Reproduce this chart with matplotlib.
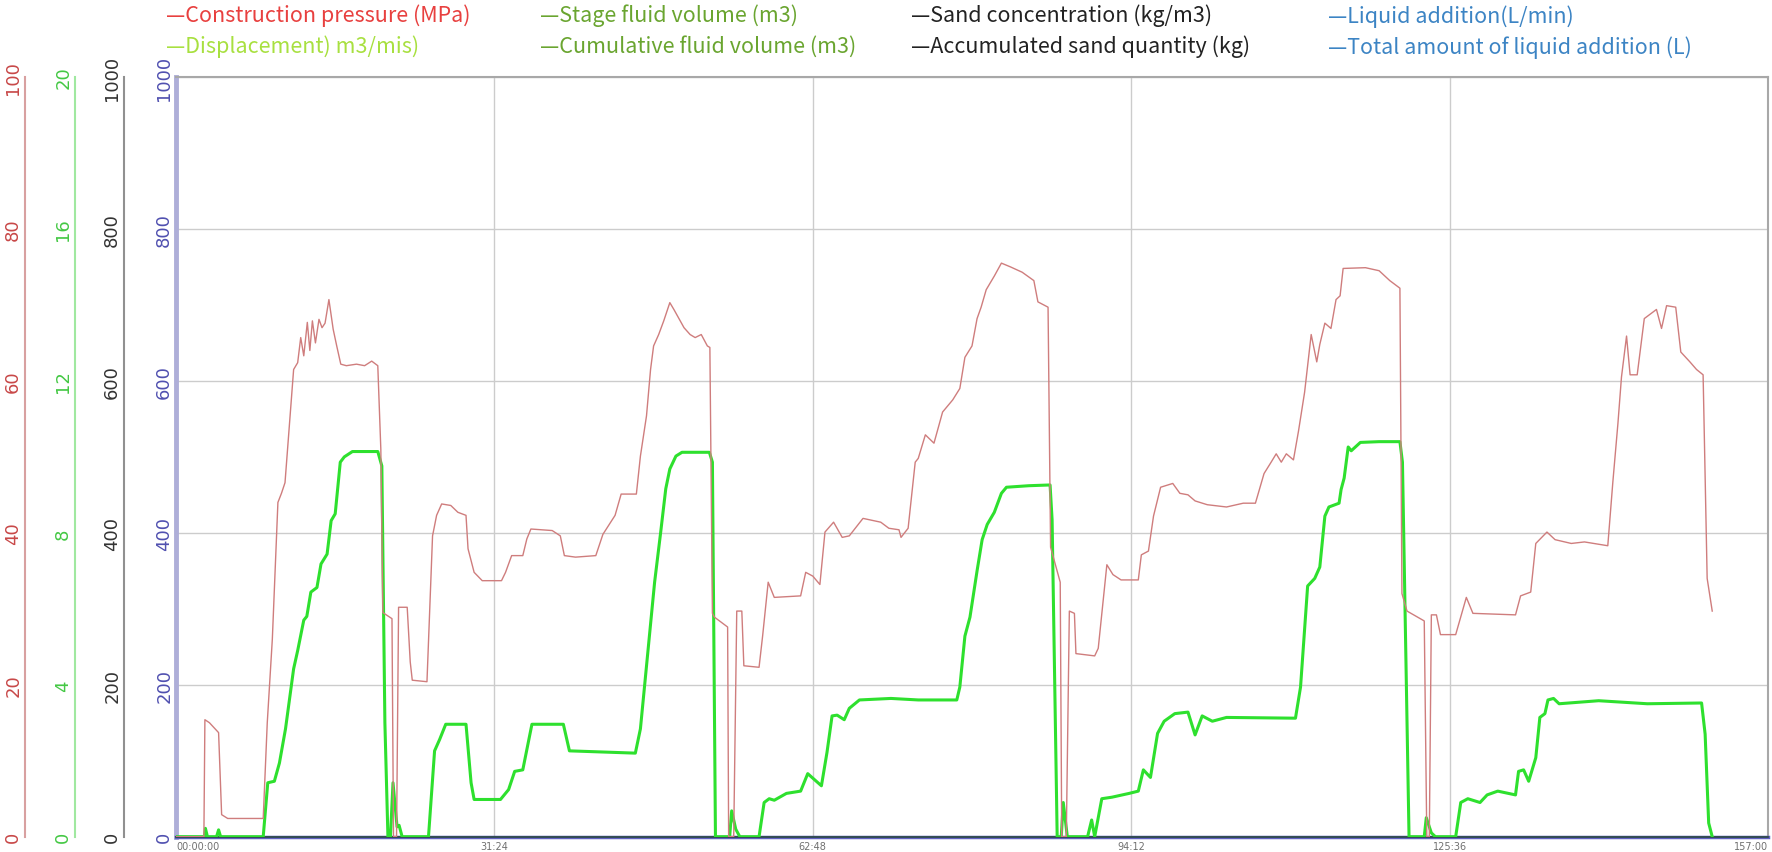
import numpy as np
import matplotlib
matplotlib.use('Agg')
import matplotlib.pyplot as plt

# 时间 (min)
t_pressure = [0, 2.75, 2.85, 3.3, 4.2, 4.5, 5.1, 8.6, 9.0, 9.5, 10.05, 10.4, 10.75, 11.0, 11.6, 12.0, 12.3, 12.6,
              12.95, 13.2, 13.45, 13.75, 14.1, 14.4, 14.7, 15.08, 15.5, 15.85, 16.25, 16.8, 17.8, 18.6, 19.3, 19.9,
              20.2, 20.4, 21.3, 21.45, 21.75, 21.95, 22.8, 23.1, 23.3, 24.75, 25.3, 25.7, 26.2, 27.1, 27.8, 28.6,
              28.8, 29.4, 30.2, 32.1, 32.5, 33.1, 34.2, 34.6, 35.0, 37.1, 37.9, 38.3, 39.4, 41.4, 42.1, 43.3, 43.9,
              45.4, 45.8, 46.4, 46.8, 47.1, 47.6, 48.1, 48.7, 49.1, 49.6, 50.1, 50.7, 51.2, 51.8, 52.4, 52.65, 52.9,
              53.1, 54.4, 54.5, 55.0, 55.3, 55.8, 56.0, 57.5, 57.85, 58.4, 59.0, 61.6, 62.1, 62.8, 63.5, 64.0, 64.85,
              65.7, 66.4, 67.75, 69.5, 70.3, 71.3, 71.5, 72.2, 72.9, 73.2, 73.9, 74.75, 75.6, 76.6, 77.3, 77.8, 78.5,
              79.0, 79.4, 79.9, 80.7, 81.4, 82.3, 83.45, 84.6, 85.0, 86.0, 86.25, 87.2, 87.35, 87.8, 88.1, 88.6,
              88.75, 90.6, 90.95, 91.8, 92.4, 93.2, 94.9, 95.2, 95.9, 96.4, 97.1, 98.3, 99.0, 99.8, 100.5, 101.7,
              103.6, 105.25, 106.45, 107.3, 108.0, 108.5, 109.0, 109.5, 110.2, 110.7, 111.3, 111.6, 111.95, 112.5,
              112.8, 113.3, 113.9, 114.4, 114.8, 115.1, 117.3, 118.65, 119.7, 120.7, 120.9, 121.4, 123.1, 123.35,
              123.6, 123.8, 124.3, 124.7, 126.2, 127.25, 127.9, 132.1, 132.6, 133.6, 134.1, 135.2, 136.0, 137.6,
              138.9, 141.2, 141.7, 142.2, 142.55, 143.05, 143.4, 144.1, 144.8, 146.0, 146.5, 147.0, 147.9, 148.4,
              149.3, 149.95, 150.6, 151.0, 151.5]
# 施工压力 (MPa)
pressure = [0, 0, 15.4, 15.0, 13.7, 2.9, 2.4, 2.4, 15.0, 26.0, 44.0, 45.2, 46.6, 51.0, 61.5, 62.4, 65.7, 63.3,
            67.7, 64.0, 67.9, 65.0, 68.1, 67.0, 67.6, 70.7, 66.8, 64.6, 62.2, 62.0, 62.2, 62.0, 62.6, 62.0,
            51.0, 29.5, 28.7, 0, 0, 30.2, 30.2, 23.0, 20.6, 20.4, 39.6, 42.3, 43.8, 43.6, 42.7, 42.3,
            37.9, 34.8, 33.7, 33.7, 34.8, 37.0, 37.0, 39.2, 40.5, 40.3, 39.6, 37.0, 36.8, 37.0, 39.8, 42.3, 45.1,
            45.1, 50.1, 55.4, 61.5, 64.6, 66.1, 67.9, 70.3, 69.4, 68.2, 67.0, 66.1, 65.7, 66.1, 64.6, 64.4, 29.4,
            28.9, 27.6, 0, 0, 29.7, 29.7, 22.5, 22.3, 26.4, 33.5, 31.5, 31.7, 34.8, 34.3, 33.2, 40.1, 41.4,
            39.4, 39.6, 41.9, 41.4, 40.6, 40.4, 39.4, 40.6, 49.3, 49.8, 52.9, 51.8, 55.9, 57.5, 59.0, 63.1, 64.6,
            68.2, 69.7, 72.0, 73.8, 75.5, 75.0, 74.3, 73.2, 70.4, 69.7, 38.1, 33.5, 0, 0, 29.7, 29.4,
            24.1, 23.8, 24.8, 35.8, 34.5, 33.8, 33.8, 37.1, 37.6, 42.2, 46.0, 46.5, 45.2, 45.0, 44.2, 43.7,
            43.4, 43.9, 43.9, 47.8, 49.3, 50.4, 49.3, 50.4, 49.6, 53.4, 58.5, 62.0, 66.1, 62.5,
            64.8, 67.6, 66.9, 70.7, 71.2, 74.8, 74.9, 74.5, 73.2, 72.2, 32.0, 29.7, 28.4, 0,
            0, 29.2, 29.2, 26.6, 26.6, 31.5, 29.4, 29.2, 31.7, 32.2, 38.6, 40.1, 39.1, 38.6,
            38.8, 38.3, 46.7, 54.4, 60.5, 65.9, 60.8, 60.8, 68.2, 69.4, 66.9, 69.9, 69.7, 63.8,
            62.5, 61.5, 60.8, 34.0, 29.7]

t_disp = [0, 2.8, 2.9, 3.1, 4.0, 4.2, 4.4, 8.6, 9.05, 9.7, 10.2, 10.8, 11.6, 12.0, 12.6, 12.9, 13.3, 13.9, 14.3,
          14.9, 15.3, 15.7, 16.2, 16.6, 17.4, 19.9, 20.3, 20.6, 20.9, 21.15, 21.4, 21.8, 22.0, 22.3, 24.9, 25.5,
          26.0, 26.6, 28.6, 29.1, 29.4, 32.0, 32.8, 33.4, 34.2, 35.1, 38.2, 38.8, 45.3, 45.8, 46.4, 47.2, 47.8,
          48.3, 48.7, 49.3, 49.9, 52.6, 52.9, 53.2, 54.6, 54.8, 55.2, 55.6, 57.5, 58.0, 58.5, 59.0, 60.2, 61.6,
          62.3, 63.65, 64.2, 64.7, 65.2, 65.9, 66.4, 67.4, 70.5, 73.2, 77.0, 77.3, 77.8, 78.3, 79.0, 79.5, 80.0,
          80.7, 81.4, 81.9, 84.1, 86.2, 86.4, 86.9, 87.3, 87.5, 87.9, 89.9, 90.3, 90.6, 91.3, 92.3, 94.0, 94.9,
          95.4, 96.1, 96.8, 97.45, 98.5, 99.8, 100.5, 101.2, 102.2, 103.6, 110.4, 110.9, 111.6, 112.3, 112.8,
          113.3, 113.7, 114.7, 114.9, 115.2, 115.6, 115.9, 116.8, 118.65, 120.7, 120.95, 121.6, 123.1, 123.3,
          123.8, 124.2, 126.2, 126.7, 127.4, 128.6, 129.3, 130.35, 132.1, 132.4, 132.9, 133.4, 134.1, 134.5,
          135.0, 135.3, 135.85, 136.4, 140.3, 145.1, 150.45, 150.8, 151.15, 151.5]
# 排量 (m3/min)
displacement = [0, 0, 0.22, 0, 0, 0.18, 0, 0, 1.42, 1.46, 1.94, 2.84, 4.42, 4.9, 5.7, 5.8, 6.44, 6.56, 7.18,
                7.44, 8.32, 8.5, 9.86, 10.0, 10.14, 10.14, 9.76, 3.0, 0, 0, 1.42, 0.26, 0.3, 0, 0, 2.26,
                2.56, 2.96, 2.96, 1.42, 0.98, 0.98, 1.24, 1.72, 1.76, 2.96, 2.96, 2.26, 2.2, 2.84, 4.5, 6.7, 8.02,
                9.16, 9.68, 10.02, 10.12, 10.12, 9.86, 0, 0, 0.68, 0.2, 0, 0, 0.9, 1.0, 0.96, 1.14, 1.2,
                1.66, 1.34, 2.22, 3.18, 3.2, 3.08, 3.38, 3.6, 3.64, 3.6, 3.6, 3.94, 5.28, 5.78, 7.0, 7.82, 8.22,
                8.54, 9.04, 9.2, 9.24, 9.26, 8.34, 0, 0, 0.9, 0, 0, 0.44, 0, 1.0, 1.04, 1.14, 1.2,
                1.76, 1.56, 2.72, 3.04, 3.24, 3.28, 2.68, 3.18, 3.04, 3.14, 3.12, 3.94, 6.6, 6.8, 7.1,
                8.44, 8.68, 8.78, 9.14, 9.44, 10.26, 10.16, 10.38, 10.4, 10.4, 9.86, 0, 0, 0.5,
                0.1, 0, 0, 0.9, 1.0, 0.9, 1.1, 1.2, 1.1, 1.72, 1.76, 1.46, 2.08, 3.14,
                3.24, 3.6, 3.64, 3.5, 3.58, 3.5, 3.52, 2.7, 0.36, 0]

t_zero = [0, 157]
sand_conc = [0, 0]
liquid_add = [0, 0]

x_ticks = [0, 31.4, 62.8, 94.2, 125.6, 157]
x_labels = ['00:00:00', '31:24', '62:48', '94:12', '125:36', '157:00']

legend_items = [
    ('—Construction pressure (MPa)', '#e8403f', 166, 16),
    ('—Displacement) m3/mis)', '#a8e040', 166, 47),
    ('—Stage fluid volume (m3)', '#6aa530', 540, 16),
    ('—Cumulative fluid volume (m3)', '#6aa530', 540, 47),
    ('—Sand concentration (kg/m3)', '#222222', 911, 16),
    ('—Accumulated sand quantity (kg)', '#222222', 911, 47),
    ('—Liquid addition(L/min)', '#3c84c4', 1328, 17),
    ('—Total amount of liquid addition (L)', '#3c84c4', 1328, 48),
]

W, H = 1772, 853
fig = plt.figure(figsize=(W / 100, H / 100), dpi=100)
ax = fig.add_axes([176 / W, (H - 837.7) / H, (1768 - 176) / W, (837.7 - 78) / H])

# 蓝色主轴 (液体添加)
ax.set_xlim(0, 157)
ax.set_ylim(0, 1000)
ax.grid(True, color='#cccccc', lw=1)
ax.set_axisbelow(True)
for s in ['top', 'right', 'bottom']:
    ax.spines[s].set_color('#a8a8a8')
    ax.spines[s].set_linewidth(1.5)
ax.spines['left'].set_color('#aeaed8')
ax.spines['left'].set_linewidth(3.5)
ax.set_yticks([0, 200, 400, 600, 800, 1000])
ax.set_yticklabels(['0', '200', '400', '600', '800', '1000'], rotation=90, va='center')
ax.tick_params(axis='y', length=0, pad=2, labelsize=13, labelcolor='#5050b0')
ax.set_xticks(x_ticks)
ax.set_xticklabels(x_labels)
ax.tick_params(axis='x', length=0, pad=3, labelsize=7, labelcolor='#707070')
xl = ax.get_xticklabels()
xl[0].set_ha('left')
xl[-1].set_ha('right')
ax.plot(t_zero, liquid_add, color='#6060c0', lw=2.5, clip_on=False, zorder=3)


def side_axis(pos, lim, ticks, spine_col, lab_col):
    a = ax.twinx()
    a.set_ylim(*lim)
    for s in ['top', 'right', 'bottom']:
        a.spines[s].set_visible(False)
    a.spines['left'].set_visible(True)
    a.spines['left'].set_position(('axes', pos))
    a.spines['left'].set_color(spine_col)
    a.spines['left'].set_linewidth(1.5)
    a.yaxis.set_ticks_position('left')
    a.yaxis.set_label_position('left')
    a.set_yticks(ticks)
    a.set_yticklabels([str(v) for v in ticks], rotation=90, va='center')
    a.tick_params(axis='y', length=0, pad=2, labelsize=13, labelcolor=lab_col)
    return a


ax_black = side_axis((124 - 176) / (1768 - 176), (0, 1000), [0, 200, 400, 600, 800, 1000], '#909090', '#333333')
ax_green = side_axis((75 - 176) / (1768 - 176), (0, 20), [0, 4, 8, 12, 16, 20], '#a0e8a0', '#44c844')
ax_red = side_axis((25 - 176) / (1768 - 176), (0, 100), [0, 20, 40, 60, 80, 100], '#d8a0a0', '#c84848')

ax_black.plot(t_zero, sand_conc, color='#2a4a40', lw=1.2, clip_on=False)
ax_red.plot(t_pressure, pressure, color='#cf7d7d', lw=1.0)
ax_green.plot(t_disp, displacement, color='#2ee02e', lw=2.2)

for txt, col, x, y in legend_items:
    fig.text(x / W, 1 - y / H, txt, color=col, fontsize=15.5, va='center', ha='left',
             family=['Noto Sans CJK KR', 'DejaVu Sans'])

fig.savefig('out.png', dpi=100)
